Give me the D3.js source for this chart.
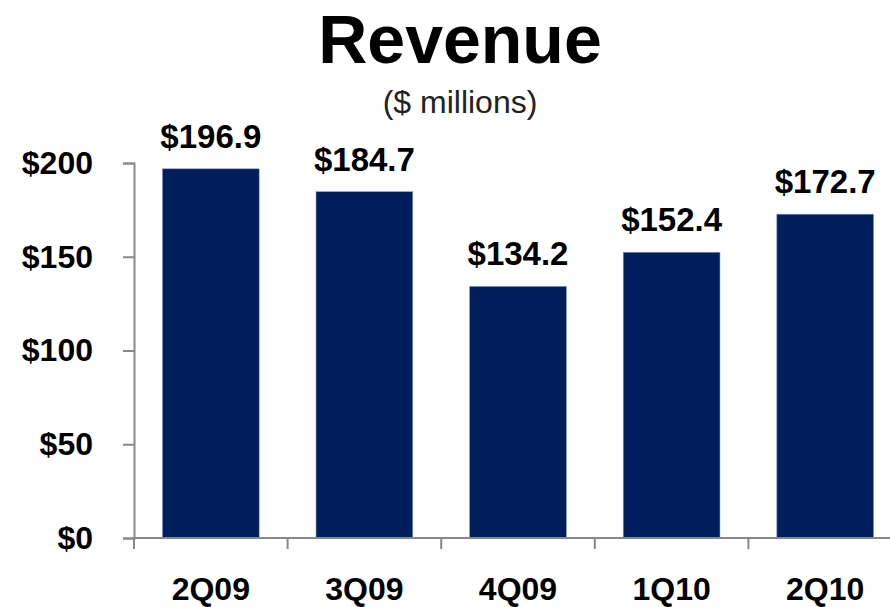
<!DOCTYPE html>
<html>
<head>
<meta charset="utf-8">
<script src="https://cdn.jsdelivr.net/npm/d3@7"></script>
<style>
  body { margin: 0; background: #fff; }
  text { font-family: Arial, "Liberation Sans", sans-serif; }
</style>
</head>
<body>
<div id="chart"></div>
<script>
// data
var quarters = ["2Q09", "3Q09", "4Q09", "1Q10", "2Q10"]
var revenue = [196.9, 184.7, 134.2, 152.4, 172.7]
var yTicks = [0, 50, 100, 150, 200]

var W = 890, H = 607
var margin = {top: 163, right: -12, bottom: 69, left: 134}
var width = W - margin.left - margin.right,
    height = H - margin.top - margin.bottom

var svg = d3.select("#chart")
  .append("svg")
  .attr("width", W)
  .attr("height", H)

// titles
svg.append("text")
  .attr("x", 460).attr("y", 63)
  .attr("text-anchor", "middle")
  .style("font-size", "68px")
  .style("font-weight", "bold")
  .text("Revenue")

svg.append("text")
  .attr("x", 460).attr("y", 113)
  .attr("text-anchor", "middle")
  .style("font-size", "32px")
  .style("fill", "#222")
  .text("($ millions)")

var g = svg.append("g")
  .attr("transform", "translate(" + margin.left + "," + margin.top + ")")

var x = d3.scaleBand()
  .domain(quarters)
  .range([0, width])
  .paddingInner(0.37)
  .paddingOuter(0.185)

var y = d3.scaleLinear()
  .domain([0, 200])
  .range([height, 0])

// bars
g.selectAll("rect.bar")
  .data(revenue)
  .enter()
  .append("rect")
    .attr("class", "bar")
    .attr("x", function(d, i) { return x(quarters[i]) })
    .attr("y", function(d) { return y(d) })
    .attr("width", x.bandwidth())
    .attr("height", function(d) { return height - y(d) })
    .attr("fill", "#001e5b")
    .attr("stroke", "#8a9cc0")
    .attr("stroke-width", 0.6)

// value labels
g.selectAll("text.val")
  .data(revenue)
  .enter()
  .append("text")
    .attr("class", "val")
    .attr("x", function(d, i) { return x(quarters[i]) + x.bandwidth() / 2 })
    .attr("y", function(d) { return y(d) - 21 })
    .attr("text-anchor", "middle")
    .style("font-size", "33px")
    .style("font-weight", "bold")
    .text(function(d) { return "$" + d.toFixed(1) })

// y axis
var yAxis = g.append("g")
  .call(d3.axisLeft(y).tickValues(yTicks).tickSize(11).tickSizeOuter(11)
    .tickFormat(function(d) { return "$" + d }))
yAxis.select(".domain").attr("stroke", "#888").attr("stroke-width", 2)
yAxis.selectAll(".tick line").attr("stroke", "#888").attr("stroke-width", 2)
yAxis.selectAll(".tick text")
  .attr("x", -41)
  .style("font-size", "32px")
  .style("font-weight", "bold")
  .style("fill", "#000")
  .style("font-family", "Arial, 'Liberation Sans', sans-serif")

// x axis: ticks sit between categories
var xAxis = g.append("g")
  .attr("transform", "translate(0," + height + ")")
xAxis.append("line")
  .attr("x1", 0).attr("x2", width)
  .attr("stroke", "#888").attr("stroke-width", 2)
xAxis.selectAll("line.sep")
  .data(quarters)
  .enter()
  .append("line")
    .attr("class", "sep")
    .attr("x1", function(d) { return x(d) - x.step() * x.paddingInner() / 2 })
    .attr("x2", function(d) { return x(d) - x.step() * x.paddingInner() / 2 })
    .attr("y1", 0).attr("y2", 11)
    .attr("stroke", "#888").attr("stroke-width", 2)
xAxis.selectAll("text.cat")
  .data(quarters)
  .enter()
  .append("text")
    .attr("class", "cat")
    .attr("x", function(d) { return x(d) + x.bandwidth() / 2 })
    .attr("y", 62)
    .attr("text-anchor", "middle")
    .style("font-size", "32px")
    .style("font-weight", "bold")
    .text(function(d) { return d })
</script>
</body>
</html>
